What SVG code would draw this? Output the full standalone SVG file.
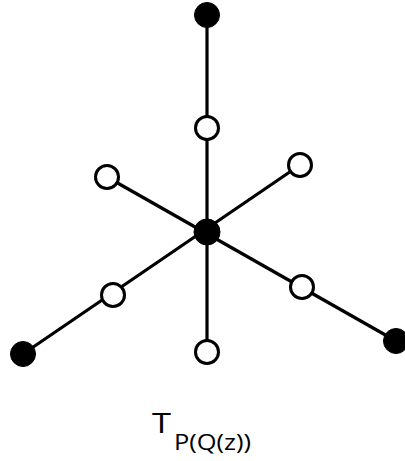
<svg xmlns="http://www.w3.org/2000/svg" width="405" height="461" viewBox="0 0 405 461">
<style>
.edge{stroke:#000;stroke-width:3.2;fill:none}
.filled{fill:#000;stroke:#000;stroke-width:1}
.open{fill:#fff;stroke:#000;stroke-width:3}
.lbl{font-family:"Open Sans","Liberation Sans",sans-serif;fill:#000}
</style>
<rect width="405" height="461" fill="#fff"/>
<g id="connectors">
<line class="edge" x1="207" y1="15" x2="207" y2="352"/>
<line class="edge" x1="107" y1="177" x2="396" y2="341"/>
<line class="edge" x1="300" y1="165" x2="23" y2="354"/>
</g>
<g id="n-top"><circle class="filled" cx="207" cy="15" r="12.5"/></g>
<g id="n-center"><circle class="filled" cx="207" cy="232" r="13"/></g>
<g id="n-bottom-left"><circle class="filled" cx="23" cy="354" r="12.5"/></g>
<g id="n-bottom-right"><circle class="filled" cx="396" cy="341" r="12.5"/></g>
<g id="o-top"><circle class="open" cx="207" cy="128" r="11.5"/></g>
<g id="o-upper-left"><circle class="open" cx="107" cy="177" r="11.5"/></g>
<g id="o-upper-right"><circle class="open" cx="300" cy="165" r="11.5"/></g>
<g id="o-lower-left"><circle class="open" cx="113" cy="295" r="11.5"/></g>
<g id="o-lower-right"><circle class="open" cx="302" cy="287" r="11.5"/></g>
<g id="o-bottom"><circle class="open" cx="207" cy="352" r="11.5"/></g>
<g id="label">
<text class="lbl" x="152" y="433" font-size="28" font-weight="500" textLength="19" lengthAdjust="spacingAndGlyphs">T</text>
<text class="lbl" x="174" y="450" font-size="21" font-weight="500" textLength="77" lengthAdjust="spacingAndGlyphs">P(Q(z))</text>
</g>
</svg>
